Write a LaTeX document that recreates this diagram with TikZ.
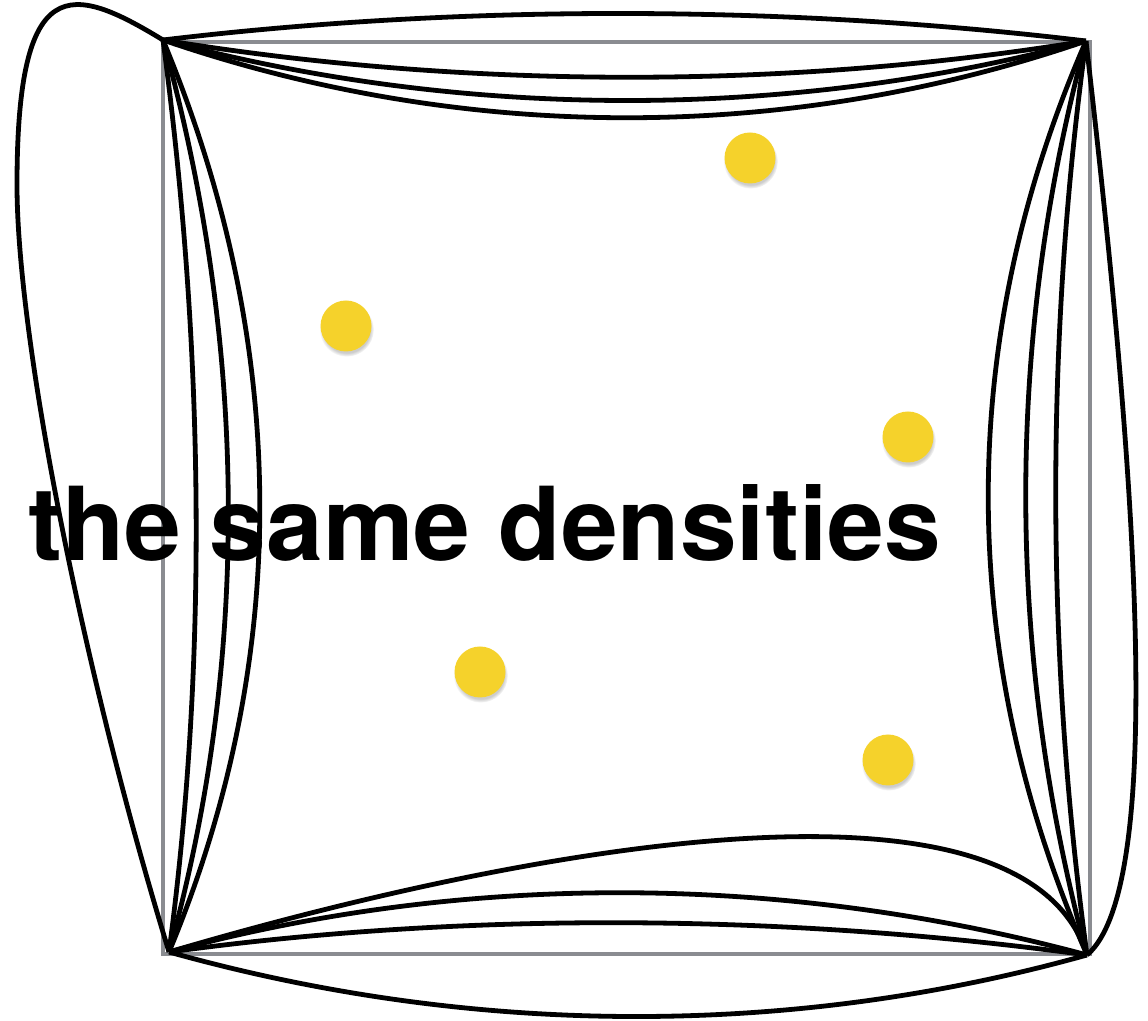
\documentclass[tikz,border=0pt]{standalone}
\usepackage{fontspec}
\newfontfamily\heros{TeX Gyre Heros}
\usetikzlibrary{shadows,fadings}
\definecolor{frameclr}{RGB}{138,140,145}
\definecolor{dotclr}{RGB}{245,210,43}
\definecolor{edgeclr}{RGB}{0,0,0}
\tikzset{
  framesq/.style={draw=frameclr,line width=2.2pt},
  edgeln/.style={draw=edgeclr,line width=2.4pt},
  ydot/.style={circle,fill=dotclr,minimum size=25.5pt,inner sep=0pt,
    circular drop shadow={shadow xshift=0.3pt,shadow yshift=-1.6pt,
      shadow scale=1.07,opacity=0.4}},
  bigtxt/.style={font=\heros\bfseries\fontsize{51}{51}\selectfont,
    inner sep=0pt,anchor=base west,text=black},
}
\begin{document}
\begin{tikzpicture}[x=0.5pt,y=-0.5pt]
  \useasboundingbox (0,0) rectangle (1148,1021);
  % square
  \draw[framesq] (163,42) rectangle (1090,954);
  % corners
  \coordinate (tl) at (163,40);
  \coordinate (tr) at (1086,41);
  \coordinate (bl) at (169,952);
  \coordinate (br) at (1087,955);
  \coordinate (lw) at (17,185);
  % top side
  \draw[edgeln] (tl) .. controls +(300,-36) and +(-300,-36) .. (tr);
  \draw[edgeln] (tl) .. controls +(300,49) and +(-300,49) .. (tr);
  \draw[edgeln] (tl) .. controls +(300,80) and +(-300,80) .. (tr);
  \draw[edgeln] (tl) .. controls +(300,103) and +(-300,103) .. (tr);
  % left side
  \draw[edgeln] (tl) .. controls +(-92,-56) and +(0,-215) .. (lw)
                     .. controls +(0,150) and +(-88,-287) .. (bl);
  \draw[edgeln] (tl) .. controls +(40,300) and +(40,-300) .. (bl);
  \draw[edgeln] (tl) .. controls +(83,300) and +(83,-300) .. (bl);
  \draw[edgeln] (tl) .. controls +(125,300) and +(125,-300) .. (bl);
  % right side
  \draw[edgeln] (tr) .. controls +(39,339) and +(88,-75) .. (br);
  \draw[edgeln] (tr) .. controls +(-41,300) and +(-41,-300) .. (br);
  \draw[edgeln] (tr) .. controls +(-81,300) and +(-81,-300) .. (br);
  \draw[edgeln] (tr) .. controls +(-131,300) and +(-131,-300) .. (br);
  % bottom side
  \draw[edgeln] (bl) .. controls +(300,84) and +(-300,84) .. (br);
  \draw[edgeln] (bl) .. controls +(300,-41) and +(-300,-41) .. (br);
  \draw[edgeln] (bl) .. controls +(300,-81) and +(-300,-81) .. (br);
  \draw[edgeln] (bl) .. controls +(311,-92) and +(-67,-210) .. (br);
  % points
  \node[ydot] (d1) at (750,158) {};
  \node[ydot] (d2) at (346,326) {};
  \node[ydot] (d3) at (908,437) {};
  \node[ydot] (d4) at (480,672) {};
  \node[ydot] (d5) at (888,760) {};
  % label
  \node[bigtxt] (lbl) at (28,561) {the same densities};
\end{tikzpicture}
\end{document}
